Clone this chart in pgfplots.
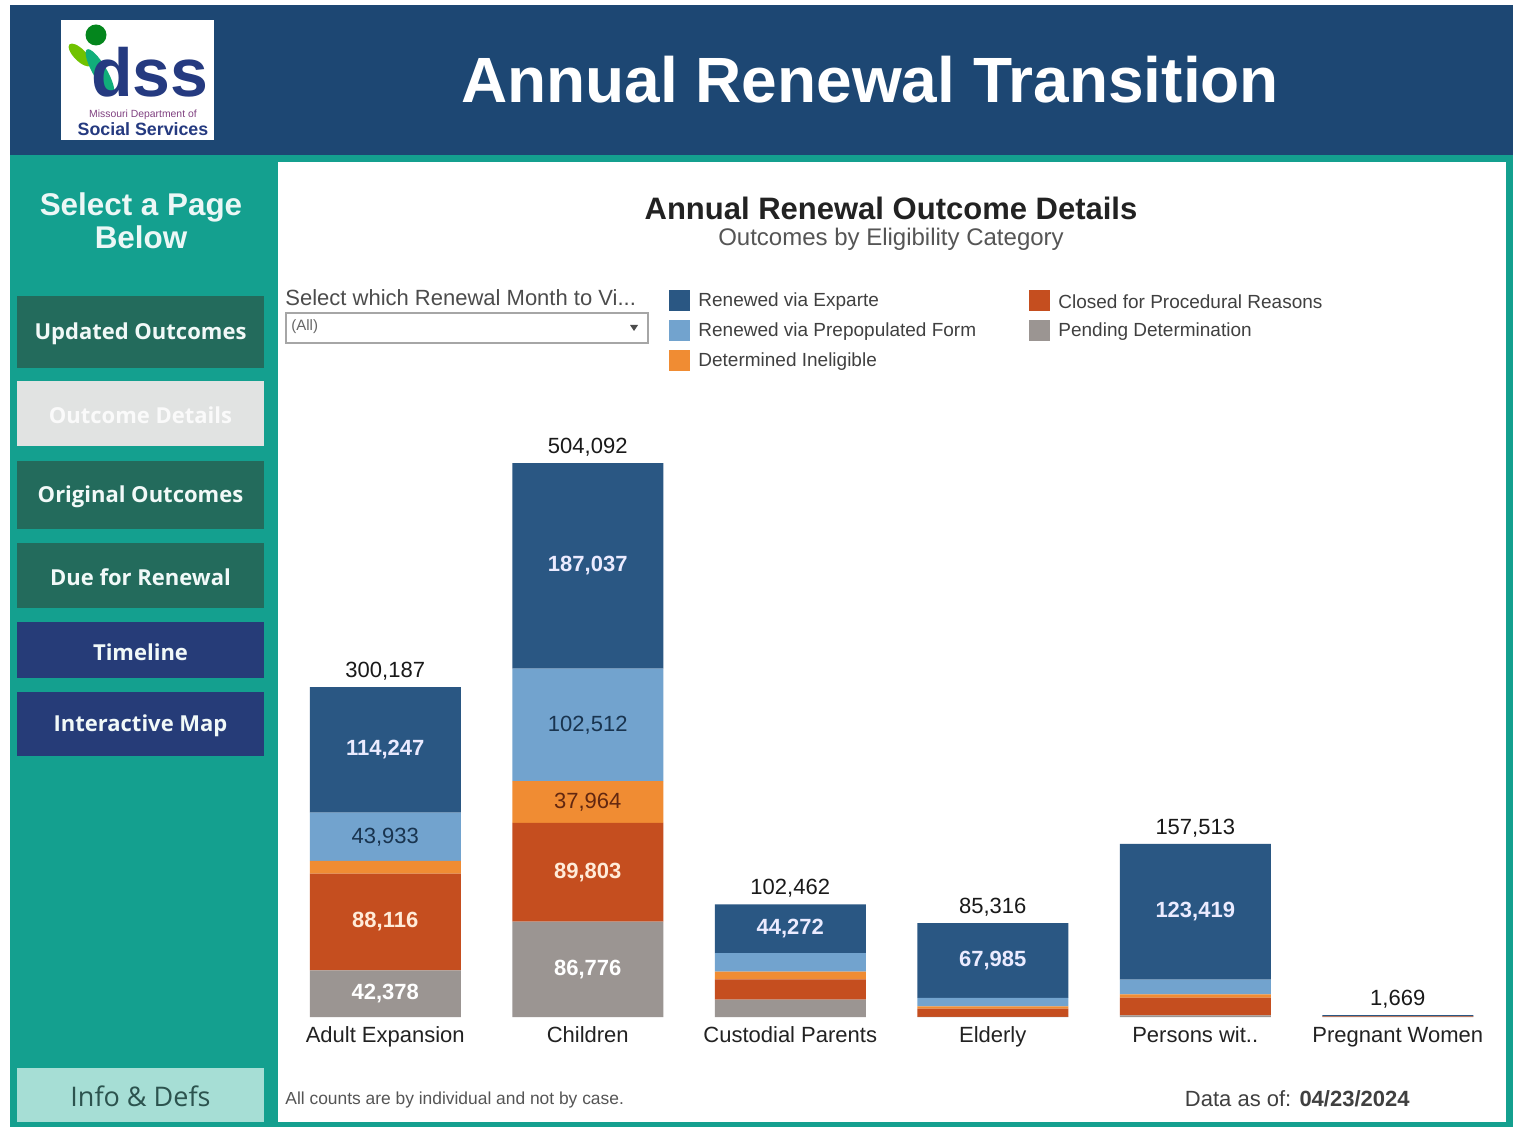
\documentclass[border=0pt]{standalone}
\usepackage{pgfplots}
\pgfplotsset{compat=1.18}
\usepackage{fontspec}
\setmainfont{Liberation Sans}
\newfontfamily\btnfont{Open Sans}

\definecolor{hdr}{HTML}{1D4773}
\definecolor{teal}{HTML}{14A08F}
\definecolor{btndark}{HTML}{236B5C}
\definecolor{btnnavy}{HTML}{263C78}
\definecolor{btngray}{HTML}{E1E3E2}
\definecolor{btnmint}{HTML}{A6DED5}
\definecolor{navy}{HTML}{253A80}
\definecolor{cexp}{HTML}{2A5783}
\definecolor{cpre}{HTML}{72A3CE}
\definecolor{cinel}{HTML}{F08C33}
\definecolor{cclos}{HTML}{C54E1F}
\definecolor{cpend}{HTML}{9B9592}
\definecolor{txtdark}{HTML}{222222}
\definecolor{txtgray}{HTML}{555555}

\newcommand{\fs}[1]{\fontsize{#1}{#1}\selectfont}

\begin{document}
\begin{tikzpicture}[x=0.5pt, y=-0.5pt]
\useasboundingbox (0,0) rectangle (1519,1127);
\fill[white] (0,0) rectangle (1519,1127);
% frame
\fill[teal] (10,155) rectangle (1513,1127);
\fill[hdr] (10,5) rectangle (1513,155);
\fill[white] (278,162) rectangle (1506,1122);

% logo
\fill[white] (61,20) rectangle (214,140);
\fill[green!40!olive!80!yellow, rotate around={-45:(80,55)}] (80,55) ellipse (15 and 6);
\fill[teal!85!green, rotate around={-60:(100,72)}] (100,72) ellipse (26 and 7);
\fill[green!50!black!80!teal] (96,35) circle (10.5);
\node[navy, font=\fs{34}\bfseries, anchor=center] at (150,72) {dss};
\node[violet!50!gray, font=\fs{5.2}, anchor=center] at (143,115) {Missouri Department of};
\node[navy, font=\fs{8.9}\bfseries, anchor=center] at (143,129) {Social Services};

% header title
\node[white, font=\fs{32}\bfseries, anchor=center] at (870,80) {Annual Renewal Transition};

% sidebar
\node[white!92!teal, font=\fs{15.7}\bfseries, align=center, anchor=center] at (141,221)
  {Select a Page\\[1pt]Below};
\foreach \ya/\yb/\col/\txt in {296/368/btndark/Updated Outcomes,
  461/529/btndark/Original Outcomes, 543/608/btndark/Due for Renewal,
  622/678/btnnavy/Timeline, 692/756/btnnavy/Interactive Map}{
  \fill[\col] (17,\ya) rectangle (264,\yb);
  \node[white!94!teal, font=\btnfont\fs{11}\bfseries, anchor=center] at (140.5,{(\ya+\yb)/2+2}) {\txt};
}
\fill[btngray] (17,381) rectangle (264,446);
\node[white!96!gray, font=\btnfont\fs{11}\bfseries, anchor=center] at (140.5,415) {Outcome Details};
\fill[btnmint] (17,1068) rectangle (264,1122);
\node[black!60!teal!70!gray, font=\btnfont\fs{13.5}, anchor=center] at (140.5,1096) {Info \& Defs};

% chart titles
\node[txtdark, font=\fs{15.5}\bfseries, anchor=center] at (891,208) {Annual Renewal Outcome Details};
\node[txtgray, font=\fs{12}, anchor=center] at (891,239) {Outcomes by Eligibility Category};

% dropdown
\node[black!70, font=\fs{11}, anchor=west, inner sep=0pt] at (285,298) {Select which Renewal Month to Vi...};
\draw[gray!70, line width=0.8pt] (286,313) rectangle (648,343);
\node[black!60, font=\fs{7.5}, anchor=west, inner sep=0pt] at (291,327) {(All)};
\fill[black!70] (630,325) -- (638,325) -- (634,331) -- cycle;

% legend
\foreach \yy/\col/\txt in {301/cexp/Renewed via Exparte, 331/cpre/Renewed via Prepopulated Form,
  361/cinel/Determined Ineligible}{
  \fill[\col] (669,\yy-10.5) rectangle (690,\yy+10.5);
  \node[black!75, font=\fs{9.5}, anchor=west, inner sep=0pt] at (698,\yy+1) {\txt};
}
\foreach \yy/\col/\txt in {301/cclos/Closed for Procedural Reasons, 331/cpend/Pending Determination}{
  \fill[\col] (1029,\yy-10.5) rectangle (1050,\yy+10.5);
  \node[black!75, font=\fs{9.5}, anchor=west, inner sep=0pt] at (1058,\yy+1) {\txt};
}

% footer
\node[txtgray, font=\fs{8.7}, anchor=west, inner sep=0pt] at (285,1100) {All counts are by individual and not by case.};
\node[black!75, font=\fs{11}, anchor=east, inner sep=0pt] at (1410,1099) {Data as of: \textbf{04/23/2024}};

\begin{axis}[
  at={(142pt,-508.5pt)}, anchor=south west,
  scale only axis, width=607.5pt, height=329.7pt,
  xmin=-0.5, xmax=5.5, ymin=0, ymax=600000,
  ybar stacked, bar width=75.5pt,
  axis line style={draw=none},
  ytick=\empty,
  xtick={0,...,5},
  xticklabels={Adult Expansion, Children, Custodial Parents, Elderly, Persons wit.., Pregnant Women},
  major tick length=0pt,
  xticklabel style={font=\fs{11}, text=txtdark, anchor=base, yshift=-12.5pt},
  clip=false,
]
\addplot[fill=cpend, draw=none] coordinates {(0,42378) (1,86776) (2,15890) (3,71) (4,1594) (5,169)};
\addplot[fill=cclos, draw=none] coordinates {(0,88116) (1,89803) (2,18400) (3,7600) (4,16100) (5,300)};
\addplot[fill=cinel, draw=none] coordinates {(0,11513) (1,37964) (2,7000) (3,2100) (4,3000) (5,100)};
\addplot[fill=cpre, draw=none] coordinates {(0,43933) (1,102512) (2,16900) (3,7560) (4,13400) (5,300)};
\addplot[fill=cexp, draw=none] coordinates {(0,114247) (1,187037) (2,44272) (3,67985) (4,123419) (5,800)};

% label anchors (segment centres and bar tops)
\coordinate (s1) at (axis cs:0,243063);
\coordinate (s2) at (axis cs:0,163973);
\coordinate (s3) at (axis cs:0,86436);
\coordinate (s4) at (axis cs:0,21189);
\coordinate (s5) at (axis cs:1,410573);
\coordinate (s6) at (axis cs:1,265799);
\coordinate (s7) at (axis cs:1,195561);
\coordinate (s8) at (axis cs:1,131677);
\coordinate (s9) at (axis cs:1,43388);
\coordinate (s10) at (axis cs:2,80326);
\coordinate (s11) at (axis cs:3,51323);
\coordinate (s12) at (axis cs:4,95803);
\coordinate (t0) at (axis cs:0,300187);
\coordinate (t1) at (axis cs:1,504092);
\coordinate (t2) at (axis cs:2,102462);
\coordinate (t3) at (axis cs:3,85316);
\coordinate (t4) at (axis cs:4,157513);
\coordinate (t5) at (axis cs:5,1669);
\end{axis}

\tikzset{seg/.style={font=\fs{11}, anchor=center, inner sep=0pt},
  segb/.style={font=\fs{11}\bfseries, anchor=center, inner sep=0pt},
  tot/.style={font=\fs{11}, text=black!90, anchor=center, inner sep=0pt, yshift=8pt}}
\node[segb, text=blue!8!white] at (s1) {114,247};
\node[seg, text=cexp!60!black] at (s2) {43,933};
\node[segb, text=orange!15!white] at (s3) {88,116};
\node[segb, text=white] at (s4) {42,378};
\node[segb, text=blue!8!white] at (s5) {187,037};
\node[seg, text=cexp!60!black] at (s6) {102,512};
\node[seg, text=cclos!50!black] at (s7) {37,964};
\node[segb, text=orange!15!white] at (s8) {89,803};
\node[segb, text=white] at (s9) {86,776};
\node[segb, text=blue!8!white] at (s10) {44,272};
\node[segb, text=blue!8!white] at (s11) {67,985};
\node[segb, text=blue!8!white] at (s12) {123,419};
\node[tot] at (t0) {300,187};
\node[tot] at (t1) {504,092};
\node[tot] at (t2) {102,462};
\node[tot] at (t3) {85,316};
\node[tot] at (t4) {157,513};
\node[tot] at (t5) {1,669};
\end{tikzpicture}
\end{document}
